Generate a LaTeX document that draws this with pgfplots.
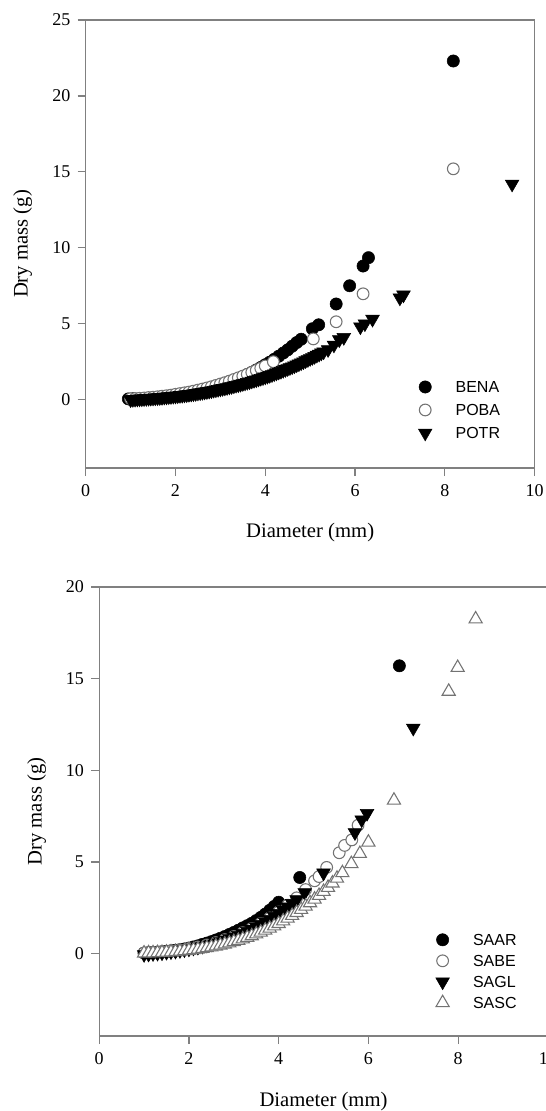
\documentclass[border=0pt]{standalone}
\usepackage{pgfplots}
\pgfplotsset{compat=1.18}
\usepackage{fontspec}
\setmainfont{Liberation Serif}
\newfontfamily\arial{Liberation Sans}
\definecolor{axgray}{gray}{0.5}
\definecolor{opengray}{gray}{0.45}
\pgfplotsset{
  myaxis/.style={
    scale only axis,
    xmin=0, xmax=10, ymin=-4.5,
    xtick={0,2,...,10},
    axis line style={axgray, line width=0.9pt},
    tick style={axgray, line width=0.9pt},
    tick align=outside, major tick length=6pt,
    xtick pos=bottom, ytick pos=left,
    /pgf/number format/assume math mode=true,
    tick label style={font=\fontsize{13.5}{16}\selectfont, black},
    xticklabel style={yshift=-3pt},
    yticklabel style={xshift=-2pt},
    every axis x label/.style={at={(axis description cs:0.5,-0.145)}, anchor=center, font=\fontsize{15.5}{18}\selectfont},
    xlabel={Diameter (mm)}, ylabel={Dry mass (g)},
    legend style={draw=none, fill=none, inner sep=0pt, font=\arial\fontsize{12}{14}\selectfont,
      nodes={inner sep=0pt, text height=8.6pt, text depth=0pt, anchor=west},
      /tikz/every odd column/.append style={column sep=16.8pt}},
    legend cell align=left,
    legend image code/.code={\path[draw=none, fill=none] (-6pt,-6pt) rectangle (6pt,6pt); \draw[##1] plot coordinates {(0pt,0pt)};},
  },
  fc/.style={only marks, mark=*, mark size=4.6pt, mark options={fill=black, draw=black, line width=0.4pt}},
  oc/.style={only marks, mark=*, mark size=4.4pt, mark options={fill=white, draw=opengray, line width=0.8pt}},
  ft/.style={only marks, mark=triangle*, mark size=5.9pt, mark options={rotate=180, fill=black, draw=black, line width=0.4pt}},
  ot/.style={only marks, mark=triangle*, mark size=5.7pt, mark options={fill=white, draw=opengray, line width=0.8pt}},
}
\begin{document}
\begin{tikzpicture}
\useasboundingbox (0,0) rectangle (409.5pt,-833.25pt);
% ---------------- top panel ----------------
\begin{axis}[myaxis, at={(64.3pt,-351pt)}, anchor=south west, width=336.6pt, height=336pt,
  ymax=25, ytick={0,5,...,25},
  every axis y label/.style={at={(axis description cs:-0.1406,0.5)}, anchor=center, rotate=90, font=\fontsize{15.5}{18}\selectfont},
  legend style={at={(axis cs:7.38,1.38)}, anchor=north west, row sep=5.25pt},
  legend entries={BENA,POBA,POTR}]
\addplot[fc] coordinates {
(0.95,0.05) (1.0,0.03) (1.05,0.06) (1.1,0.04) (1.2,0.06) (1.3,0.08) (1.4,0.09) (1.5,0.12)
(1.6,0.14) (1.7,0.17) (1.8,0.20) (1.9,0.24) (2.0,0.27) (2.1,0.32) (2.2,0.36) (2.3,0.42)
(2.4,0.48) (2.5,0.54) (2.6,0.61) (2.7,0.69) (2.8,0.76) (2.9,0.85) (3.0,0.95) (3.1,1.05)
(3.2,1.16) (3.3,1.27) (3.4,1.39) (3.5,1.52) (3.6,1.66) (3.7,1.80) (3.8,1.96) (3.9,2.12)
(4.0,2.30) (4.1,2.47) (4.2,2.66) (4.3,2.86) (4.4,3.07) (4.5,3.28) (4.6,3.52) (4.7,3.76)
(4.8,3.98) (5.05,4.67) (5.19,4.93) (5.58,6.30) (5.88,7.50) (6.18,8.80) (6.30,9.35) (8.19,22.3)};
\addplot[oc] coordinates {
(1.0,0.06) (1.1,0.07) (1.2,0.09) (1.3,0.11) (1.4,0.14) (1.5,0.16) (1.6,0.19) (1.7,0.23)
(1.8,0.26) (1.9,0.30) (2.0,0.35) (2.1,0.40) (2.2,0.45) (2.3,0.50) (2.4,0.56) (2.5,0.63)
(2.6,0.70) (2.7,0.77) (2.8,0.85) (2.9,0.94) (3.0,1.03) (3.1,1.12) (3.2,1.22) (3.3,1.33)
(3.4,1.44) (3.5,1.55) (3.6,1.67) (3.7,1.80) (3.8,1.93) (3.9,2.07) (4.0,2.22) (4.18,2.50)
(5.07,4.00) (5.58,5.13) (6.18,6.97) (8.19,15.2)};
\addplot[ft] coordinates {
(1.0,0.0) (1.05,0.02) (1.1,0.03) (1.15,0.04) (1.2,0.05) (1.25,0.06) (1.3,0.07) (1.35,0.08)
(1.4,0.09) (1.45,0.10) (1.5,0.11) (1.55,0.12) (1.6,0.13) (1.65,0.14) (1.7,0.15) (1.75,0.17)
(1.8,0.18) (1.85,0.20) (1.9,0.21) (1.95,0.23) (2.0,0.24) (2.05,0.26) (2.1,0.28) (2.15,0.29)
(2.2,0.31) (2.25,0.33) (2.3,0.35) (2.35,0.37) (2.4,0.39) (2.45,0.41) (2.5,0.44) (2.55,0.46)
(2.6,0.48) (2.65,0.51) (2.7,0.53) (2.75,0.56) (2.8,0.59) (2.85,0.62) (2.9,0.65) (2.95,0.68)
(3.0,0.71) (3.05,0.74) (3.1,0.77) (3.15,0.80) (3.2,0.84) (3.25,0.87) (3.3,0.91) (3.35,0.95)
(3.4,0.98) (3.45,1.02) (3.5,1.06) (3.55,1.10) (3.6,1.14) (3.65,1.18) (3.7,1.23) (3.75,1.27)
(3.8,1.31) (3.85,1.36) (3.9,1.41) (3.95,1.45) (4.0,1.50) (4.05,1.55) (4.1,1.60) (4.15,1.65)
(4.2,1.71) (4.25,1.76) (4.3,1.82) (4.35,1.87) (4.4,1.93) (4.45,1.99) (4.5,2.05) (4.55,2.11)
(4.6,2.17) (4.65,2.23) (4.7,2.30) (4.75,2.36) (4.8,2.43) (4.85,2.50) (4.9,2.57) (4.95,2.64)
(5.0,2.71) (5.05,2.78) (5.1,2.85) (5.15,2.93) (5.2,3.00) (5.25,3.08) (5.3,3.15) (5.4,3.30)
(5.53,3.60) (5.65,3.95) (5.75,4.10) (6.12,4.80) (6.22,5.00) (6.39,5.30) (7.00,6.70) (7.08,6.90)
(9.50,14.2)};
\end{axis}
% ---------------- bottom panel ----------------
\begin{axis}[myaxis, at={(74.4pt,-777pt)}, anchor=south west, width=336.5pt, height=336.75pt,
  ymax=20, ytick={0,5,...,20},
  every axis y label/.style={at={(axis description cs:-0.1395,0.5)}, anchor=center, rotate=90, font=\fontsize{15.5}{18}\selectfont},
  legend style={at={(axis cs:7.47,1.20)}, anchor=north west, row sep=3.75pt},
  legend entries={SAAR,SABE,SAGL,SASC}]
\addplot[fc] coordinates {
(1.0,0.03) (1.1,0.05) (1.2,0.06) (1.3,0.08) (1.4,0.10) (1.5,0.12) (1.6,0.15) (1.7,0.18)
(1.8,0.21) (1.9,0.25) (2.0,0.30) (2.1,0.36) (2.2,0.42) (2.3,0.50) (2.4,0.57) (2.5,0.65)
(2.6,0.74) (2.7,0.83) (2.8,0.93) (2.9,1.04) (3.0,1.15) (3.1,1.27) (3.2,1.40) (3.3,1.52)
(3.4,1.65) (3.5,1.80) (3.6,1.97) (3.7,2.15) (3.75,2.05) (3.8,2.36) (3.85,2.20) (3.9,2.57)
(3.95,2.45) (4.0,2.80) (4.05,2.60) (4.47,4.15) (6.69,15.7)};
\addplot[oc] coordinates {
(1.0,0.03) (1.2,0.06) (1.4,0.09) (1.6,0.14) (1.8,0.19) (2.0,0.27) (2.2,0.36) (2.4,0.47)
(2.6,0.60) (2.8,0.76) (3.0,0.93) (3.2,1.14) (3.4,1.37) (3.6,1.64) (3.8,1.94) (4.0,2.27)
(4.2,2.64) (4.4,3.04) (4.6,3.49) (4.8,3.97) (4.9,4.20) (5.07,4.70) (5.35,5.50) (5.47,5.90)
(5.63,6.20) (5.77,7.00)};
\addplot[ft] coordinates {
(1.0,-0.05) (1.1,-0.03) (1.2,0.0) (1.3,0.02) (1.4,0.04) (1.5,0.07) (1.6,0.10) (1.7,0.13)
(1.8,0.17) (1.9,0.21) (2.0,0.25) (2.1,0.30) (2.2,0.35) (2.3,0.40) (2.4,0.46) (2.5,0.52)
(2.6,0.58) (2.7,0.65) (2.8,0.73) (2.9,0.82) (3.0,0.91) (3.1,1.00) (3.2,1.10) (3.3,1.22)
(3.4,1.33) (3.5,1.46) (3.6,1.59) (3.7,1.73) (3.8,1.87) (3.9,2.03) (4.0,2.20) (4.1,2.37)
(4.2,2.55) (4.3,2.74) (4.4,2.94) (4.58,3.33) (5.0,4.40) (5.7,6.60) (5.85,7.30) (5.97,7.65)
(7.0,12.3)};
\addplot[ot] coordinates {
(1.0,0.02) (1.1,0.03) (1.2,0.03) (1.3,0.04) (1.4,0.05) (1.5,0.07) (1.6,0.08) (1.7,0.10)
(1.8,0.12) (1.9,0.15) (2.0,0.17) (2.1,0.20) (2.2,0.23) (2.3,0.27) (2.4,0.31) (2.5,0.35)
(2.6,0.40) (2.7,0.45) (2.8,0.51) (2.9,0.57) (3.0,0.64) (3.1,0.71) (3.2,0.79) (3.3,0.87)
(3.4,0.96) (3.5,1.06) (3.6,1.16) (3.7,1.27) (3.8,1.38) (3.9,1.50) (4.0,1.63) (4.1,1.77)
(4.2,1.92) (4.3,2.07) (4.4,2.23) (4.5,2.40) (4.6,2.58) (4.7,2.76) (4.8,2.96) (4.9,3.16)
(5.0,3.38) (5.1,3.60) (5.2,3.84) (5.3,4.10) (5.42,4.40) (5.62,4.90) (5.81,5.45) (6.0,6.07)
(6.57,8.36) (7.79,14.3) (7.99,15.6) (8.39,18.25)};
\end{axis}
\end{tikzpicture}
\end{document}
